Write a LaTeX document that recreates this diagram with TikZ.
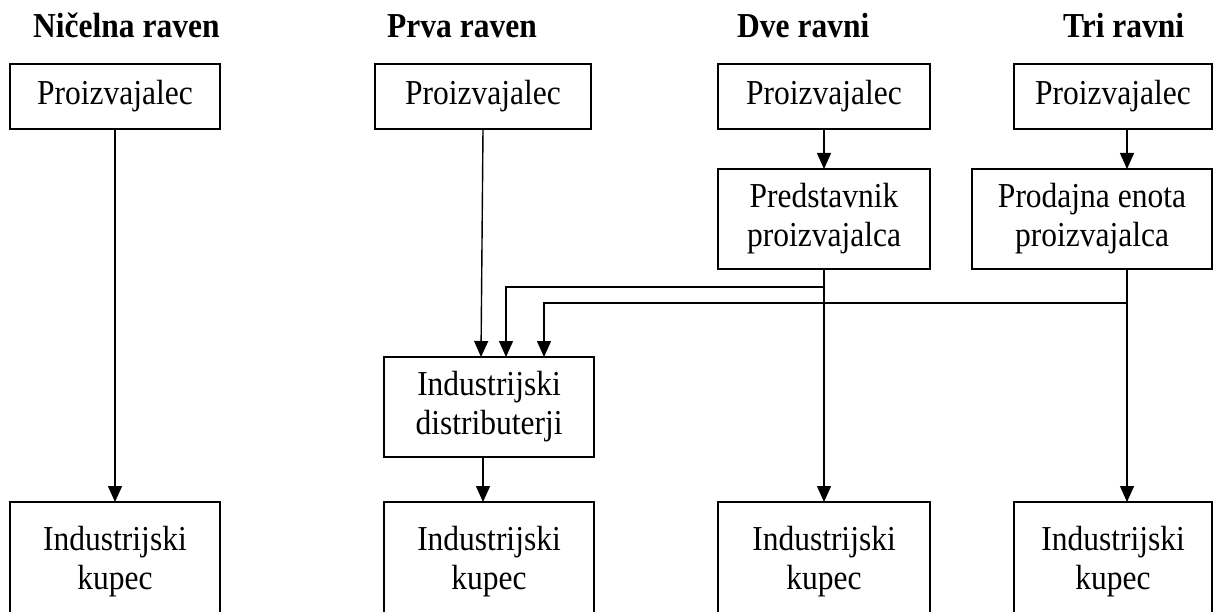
\documentclass[tikz,border=0pt]{standalone}
\usepackage{fontspec}
\setmainfont[FakeStretch=0.9]{Liberation Serif}
\usetikzlibrary{arrows.meta,calc}
\begin{document}
\begin{tikzpicture}[x=1pt,y=-1pt,
  box/.style={draw,line width=1.8pt,inner sep=0pt,outer sep=0pt,align=center,
    font=\fontsize{35}{39}\selectfont},
  title/.style={anchor=base west,inner sep=0pt,font=\fontsize{35}{39}\selectfont\bfseries},
  arr/.style={line width=1.4pt,-{Triangle[length=16pt,width=14pt]}},
]
\useasboundingbox (0,0) rectangle (1214,612);

% titles
\node[title] (t1) at (33,38) {Ničelna raven};
\node[title] (t2) at (387,38) {Prva raven};
\node[title] (t3) at (737,38) {Dve ravni};
\node[title] (t4) at (1063,38) {Tri ravni};

% top row
\node[box,minimum width=210pt,minimum height=65pt] (p1) at (115,96.5) {Proizvajalec};
\node[box,minimum width=216pt,minimum height=65pt] (p2) at (483,96.5) {Proizvajalec};
\node[box,minimum width=212pt,minimum height=65pt] (p3) at (824,96.5) {Proizvajalec};
\node[box,minimum width=198pt,minimum height=65pt] (p4) at (1113,96.5) {Proizvajalec};

% middle
\node[box,minimum width=212pt,minimum height=100pt] (rep) at (824,219) {Predstavnik\\proizvajalca};
\node[box,minimum width=240pt,minimum height=100pt] (unit) at (1092,219) {Prodajna enota\\proizvajalca};
\node[box,minimum width=210pt,minimum height=100pt] (dist) at (489,407) {Industrijski\\distributerji};

% bottom row
\node[box,anchor=north,minimum width=210pt,minimum height=120pt] (k1) at (115,502) {Industrijski\\kupec};
\node[box,anchor=north,minimum width=210pt,minimum height=120pt] (k2) at (489,502) {Industrijski\\kupec};
\node[box,anchor=north,minimum width=212pt,minimum height=120pt] (k3) at (824,502) {Industrijski\\kupec};
\node[box,anchor=north,minimum width=198pt,minimum height=120pt] (k4) at (1113,502) {Industrijski\\kupec};

\coordinate (tx) at (1127,0);

% connectors
\draw[arr] (p1.south) -- (k1.north);
\draw[arr] (p2.south) -- ($(dist.north)+(-8,0)$);
\draw[arr] ($(dist.south)+(-6,0)$) -- ($(k2.north)+(-6,0)$);
\draw[arr] (p3.south) -- (rep.north);
\draw[arr] (rep.south) -- (k3.north);
\draw[arr] ($(rep.south)+(0,18)$) -| ($(dist.north)+(17,0)$);
\draw[arr] (p4.south -| tx) -- (unit.north -| tx);
\draw[arr] (unit.south -| tx) -- (k4.north -| tx);
\draw[arr] ($(unit.south -| tx)+(0,34)$) -| ($(dist.north)+(55,0)$);
\end{tikzpicture}
\end{document}
